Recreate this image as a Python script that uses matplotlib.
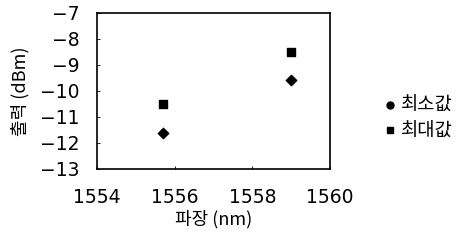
import matplotlib
matplotlib.use("Agg")
import matplotlib.pyplot as plt
from matplotlib.lines import Line2D

plt.rcParams['font.family'] = ['DejaVu Sans', 'Noto Sans CJK KR']
plt.rcParams['font.size'] = 13

# データ
wavelength = [1555.7, 1559.0]
min_power = [-11.6, -9.6]
max_power = [-10.5, -8.5]
labels = ["최소값", "최대값"]

fig = plt.figure(figsize=(4.72, 2.47), dpi=100)
ax = fig.add_axes([0.206, 0.316, 0.493, 0.632])

ax.scatter(wavelength, min_power, marker='D', s=28, color='black', label=labels[0])
ax.scatter(wavelength, max_power, marker='s', s=40, color='black', label=labels[1])

ax.set_xlim(1554, 1560)
ax.set_ylim(-13, -7)
ax.set_xticks([1554, 1556, 1558, 1560])
ax.set_yticks(range(-13, -6))
ax.tick_params(direction='in', length=2, width=0.6, labelsize=13.5)
ax.tick_params(axis='x', pad=14)
ax.tick_params(axis='y', pad=13)
for s in ax.spines.values():
    s.set_linewidth(1.2)

ax.set_xlabel("파장 (nm)", family=['Noto Sans CJK KR'], fontsize=13, labelpad=2)
ax.set_ylabel("출력 (dBm)", family=['Noto Sans CJK KR'], fontsize=13, labelpad=7)

handles = [
    Line2D([], [], marker='o', linestyle='none', color='black', markersize=5),
    Line2D([], [], marker='s', linestyle='none', color='black', markersize=5),
]
leg = fig.legend(handles, labels, loc='center left', bbox_to_anchor=(0.77, 0.52),
                 frameon=False, handletextpad=0.1, handlelength=1.0, labelspacing=0.25,
                 prop={'family': 'Noto Sans CJK KR', 'size': 13.5})

fig.savefig("out.png", dpi=100)
